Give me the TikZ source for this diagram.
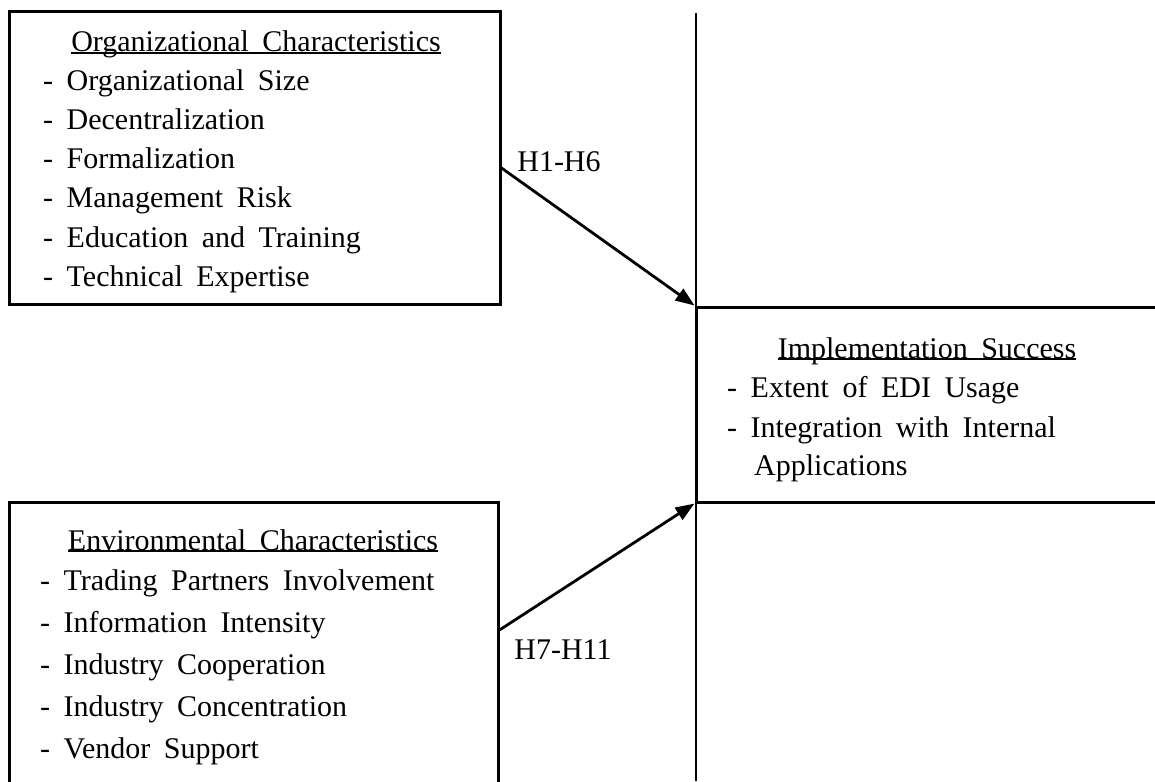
\documentclass[tikz,border=0pt]{standalone}
\usepackage{fontspec}
\setmainfont[WordSpace=1.8]{Liberation Serif}
\usetikzlibrary{arrows.meta,positioning}
\newcommand\ulc[1]{\setbox0=\hbox{#1}\rlap{\rule[-2pt]{\wd0}{1.6pt}}\box0}

\begin{document}
\begin{tikzpicture}[x=1pt,y=-1pt,
  every node/.style={font=\fontsize{30}{35}\selectfont},
  box/.style={draw,line width=3pt,inner sep=0pt},
  ttl/.style={anchor=base,inner sep=0pt},
  itm/.style={anchor=base west,inner sep=0pt},
  arr/.style={line width=2.8pt,-{Triangle[length=19pt,width=14pt]}}]
 \clip (0,0) rectangle (1155,781);
 % the three boxes
 \node[box,minimum width=491pt,minimum height=292pt] (org) at (254.5,158) {};
 \node[box,minimum width=489pt,minimum height=298pt] (env) at (253.5,651) {};
 \node[box,minimum width=460pt,minimum height=195pt] (imp) at (926,404.5) {};
 \coordinate (vtop) at (696,13);
 \coordinate (vbot) at (696,781);
 \draw[line width=1.3pt] (vtop)--(vbot);
 % organizational
 \node[ttl] (orgT) at (256,52) {\ulc{Organizational Characteristics}};
 \foreach \t [count=\i] in {Organizational Size,Decentralization,Formalization,Management Risk,Education and Training,Technical Expertise}
   \node[itm] (org\i) at (43,51+39.2*\i) {- \t};
 % environmental
 \node[ttl] (envT) at (253,550) {\ulc{Environmental Characteristics}};
 \foreach \t [count=\i] in {Trading Partners Involvement,Information Intensity,Industry Cooperation,Industry Concentration,Vendor Support}
   \node[itm] (env\i) at (40,549+41.8*\i) {- \t};
 % implementation
 \node[ttl] (impT) at (927,358) {\ulc{Implementation Success}};
 \node[itm] (imp1) at (727,397) {- Extent of EDI Usage};
 \node[itm] (imp2) at (727,437) {- Integration with Internal};
 \node[itm] (imp3) at (754,475) {Applications};
 % hypotheses
 \node (h1) at (559,162) {H1-H6};
 \node (h2) at (563,650) {H7-H11};
 \draw[arr] ([yshift=-10pt]org.east)--(imp.north west);
 \draw[arr] ([yshift=21pt]env.east)--(imp.south west);
\end{tikzpicture}
\end{document}
